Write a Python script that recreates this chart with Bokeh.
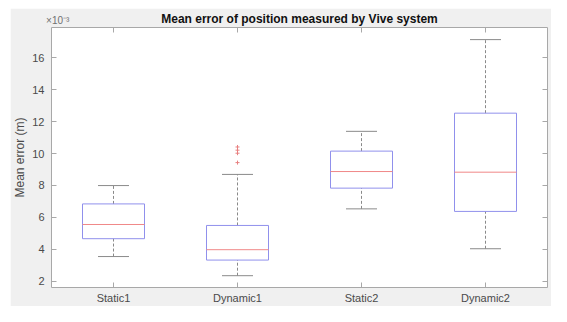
from bokeh.plotting import figure
from bokeh.layouts import column, row
from bokeh.models import (FactorRange, Range1d, FixedTicker, LinearAxis,
                          ColumnDataSource, Spacer, CustomLabelingPolicy)
from bokeh.transform import dodge
from bokeh.embed import file_html
from bokeh.resources import INLINE

# ---- data (values in units of 1e-3 m) ----
categories = ["Static1", "Dynamic1", "Static2", "Dynamic2"]
whisker_low = [3.54, 2.34, 6.53, 4.03]
q1 = [4.66, 3.32, 7.83, 6.37]
median = [5.55, 3.97, 8.87, 8.83]
q3 = [6.84, 5.49, 10.15, 12.53]
whisker_high = [7.99, 8.69, 11.39, 17.14]
outlier_cat = ["Dynamic1", "Dynamic1", "Dynamic1", "Dynamic1"]
outlier_val = [10.41, 10.21, 10.02, 9.43]
y_ticks = [2, 4, 6, 8, 10, 12, 14, 16]
title_text = "Mean error of position measured by Vive system"
exponent_text = "×10⁻³"

FONT = "Liberation Sans"
TXT = "#4a4a4a"
GRAYLINE = "#a8a8a8"
BOX = "#9090ec"
MED = "#f08888"
WHISK = "#8a8a8a"

W, H = 541, 298

src = ColumnDataSource(dict(cat=categories, lo=whisker_low, q1=q1, med=median,
                            q3=q3, hi=whisker_high))
osrc = ColumnDataSource(dict(cat=outlier_cat, val=outlier_val))

p = figure(width=W, height=H, x_range=FactorRange(factors=categories),
           y_range=Range1d(1.6, 17.9), output_backend="svg", toolbar_location=None,
           min_border_left=35, min_border_right=3, min_border_top=0,
           min_border_bottom=16)

p.background_fill_color = "white"
p.border_fill_color = "#f0f0f0"
p.outline_line_color = GRAYLINE
p.outline_line_width = 1
p.xgrid.visible = False
p.ygrid.visible = False

no_labels = CustomLabelingPolicy(code="return new Set()")

def style_axis(ax, labels=True):
    ax.axis_line_color = None
    ax.major_tick_line_color = GRAYLINE
    ax.major_tick_in = 5
    ax.major_tick_out = 0
    ax.minor_tick_line_color = None
    ax.major_label_text_font = FONT
    ax.major_label_text_color = TXT
    ax.major_label_text_font_size = "11px"
    if not labels:
        ax.major_label_policy = no_labels
        ax.major_label_standoff = 0
        ax.major_label_text_font_size = "1px"

# left axis
yax = p.yaxis[0]
yax.ticker = FixedTicker(ticks=y_ticks)
style_axis(yax)
yax.major_label_standoff = 7
yax.axis_label = "Mean error (m)"
yax.axis_label_text_font = FONT
yax.axis_label_text_font_style = "normal"
yax.axis_label_text_font_size = "12px"
yax.axis_label_text_color = TXT
yax.axis_label_standoff = 2

# bottom axis
xax = p.xaxis[0]
style_axis(xax)
xax.major_label_standoff = 4

# right axis (ticks only)
rax = LinearAxis(ticker=FixedTicker(ticks=y_ticks))
style_axis(rax, labels=False)
p.add_layout(rax, "right")

# top axis: category ticks (as minor ticks), exponent as its only tick label,
# title as its axis label
cat_centers = [i + 0.5 for i in range(len(categories))]
exp_pos = 0.05
tax = LinearAxis(ticker=FixedTicker(ticks=[exp_pos], minor_ticks=cat_centers))
tax.axis_line_color = None
tax.major_tick_line_color = None
tax.major_tick_in = 0
tax.major_tick_out = 0
tax.minor_tick_line_color = GRAYLINE
tax.minor_tick_in = 5
tax.minor_tick_out = 0
tax.major_label_overrides = {exp_pos: exponent_text}
tax.major_label_text_font = FONT
tax.major_label_text_font_size = "10px"
tax.major_label_text_color = "#707070"
tax.major_label_standoff = 2
tax.axis_label = title_text
tax.axis_label_text_font = FONT
tax.axis_label_text_font_style = "bold"
tax.axis_label_text_font_size = "12px"
tax.axis_label_text_color = "#111111"
tax.axis_label_standoff = -14
p.add_layout(tax, "above")

# whiskers
p.segment(x0="cat", y0="q3", x1="cat", y1="hi", source=src, line_color=WHISK,
          line_width=1, line_dash="3 2")
p.segment(x0="cat", y0="lo", x1="cat", y1="q1", source=src, line_color=WHISK,
          line_width=1, line_dash="3 2")
# caps
p.segment(x0=dodge("cat", -0.125, range=p.x_range), x1=dodge("cat", 0.125, range=p.x_range),
          y0="hi", y1="hi", source=src, line_color=WHISK, line_width=1)
p.segment(x0=dodge("cat", -0.125, range=p.x_range), x1=dodge("cat", 0.125, range=p.x_range),
          y0="lo", y1="lo", source=src, line_color=WHISK, line_width=1)
# boxes
p.vbar(x="cat", top="q3", bottom="q1", width=0.5, source=src, fill_color=None,
       line_color=BOX, line_width=1)
# medians
p.segment(x0=dodge("cat", -0.25, range=p.x_range), x1=dodge("cat", 0.25, range=p.x_range),
          y0="med", y1="med", source=src, line_color=MED, line_width=1)
# outliers
p.scatter(x="cat", y="val", source=osrc, marker="cross", size=4, line_color="#e88080",
          line_width=1)

layout = column(Spacer(height=8), row(Spacer(width=10), p))
open("out.html", "w").write(file_html(layout, INLINE))
